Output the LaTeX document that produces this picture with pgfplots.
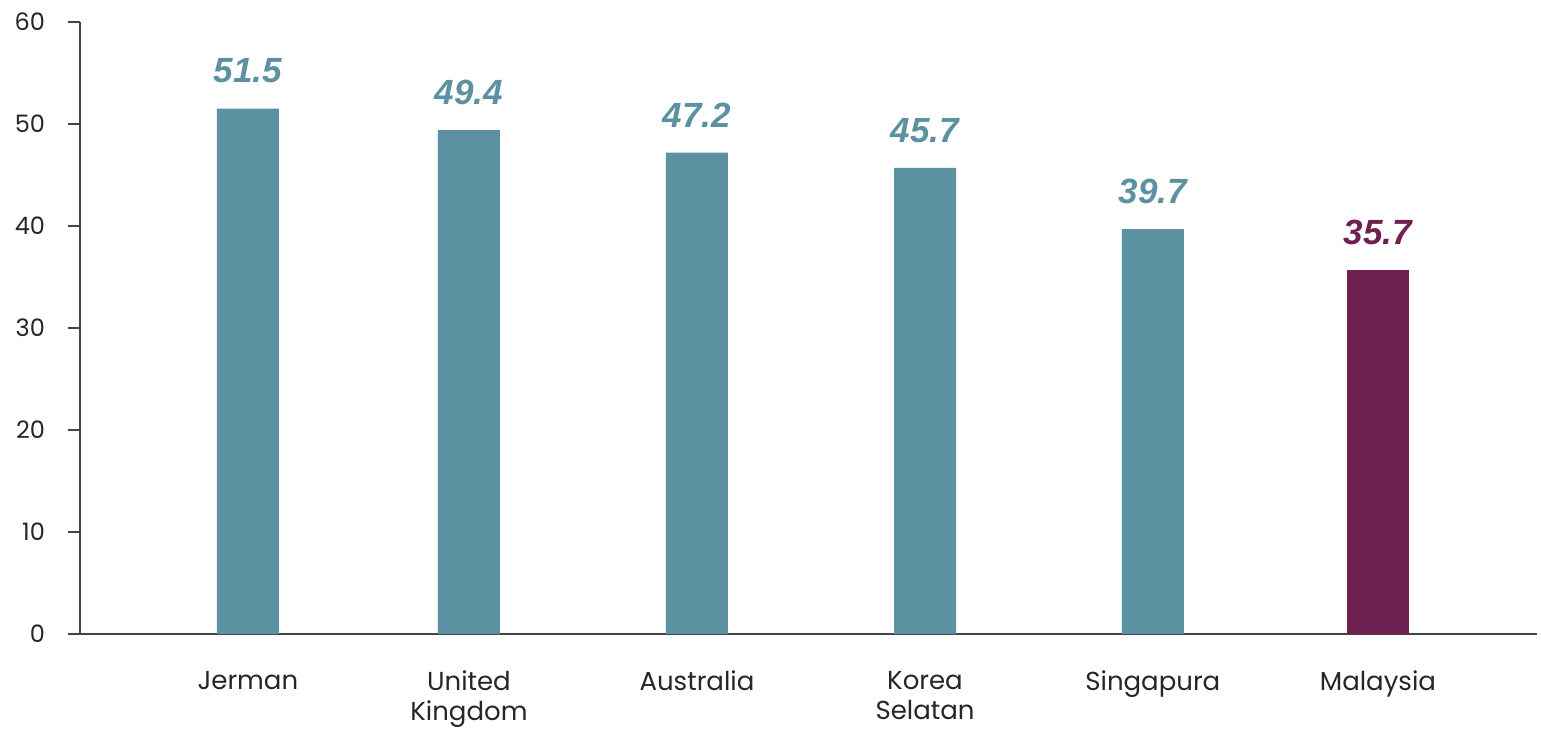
\documentclass[border=0pt]{standalone}
\usepackage{pgfplots}
\pgfplotsset{compat=1.18}
\usepackage{fontspec}
\setmainfont{Poppins}
\newfontfamily\valfont{Liberation Sans}
\definecolor{barteal}{HTML}{5B91A0}
\definecolor{barmaroon}{HTML}{6E2150}
\definecolor{axisgray}{HTML}{444444}
\begin{document}
\begin{tikzpicture}
\path[use as bounding box] (-40pt,-47.5pt) rectangle (730.5pt,317pt);
\begin{axis}[
 at={(0,0)}, anchor=south west, scale only axis,
 width=728.5pt, height=306pt,
 xmin=-0.743, xmax=5.704, ymin=0, ymax=60,
 axis x line=bottom, axis y line=left,
 axis line style={axisgray, line width=1.2pt, -},
 ytick={0,10,...,60},
 xtick={0,0.978,1.987,2.996,4.004,5},
 xticklabels={Jerman, United\\Kingdom, Australia, Korea\\Selatan, Singapura, Malaysia},
 xticklabel style={align=center, font=\fontsize{13}{15}\selectfont, text=black!85, yshift=-9pt},
 yticklabel style={font=\fontsize{12}{14}\selectfont, text=black!85, xshift=-8pt},
 x tick style={draw=none},
 y tick style={axisgray, line width=1.2pt},
 tick align=outside, major tick length=6pt,
 /pgf/number format/assume math mode=true,
 ybar, bar width=31pt,
 nodes near coords,
 every node near coord/.append style={font=\valfont\bfseries\itshape\fontsize{17.5}{20}\selectfont, anchor=south, inner sep=0pt, yshift=12.5pt},
 clip=false,
]
\addplot[fill=barteal, draw=none, bar shift=0pt, nodes near coords style={text=barteal}] coordinates {(0,51.5) (0.978,49.4) (1.987,47.2) (2.996,45.7) (4.004,39.7)};
\addplot[fill=barmaroon, draw=none, bar shift=0pt, nodes near coords style={text=barmaroon}] coordinates {(5,35.7)};
\end{axis}
\end{tikzpicture}
\end{document}
